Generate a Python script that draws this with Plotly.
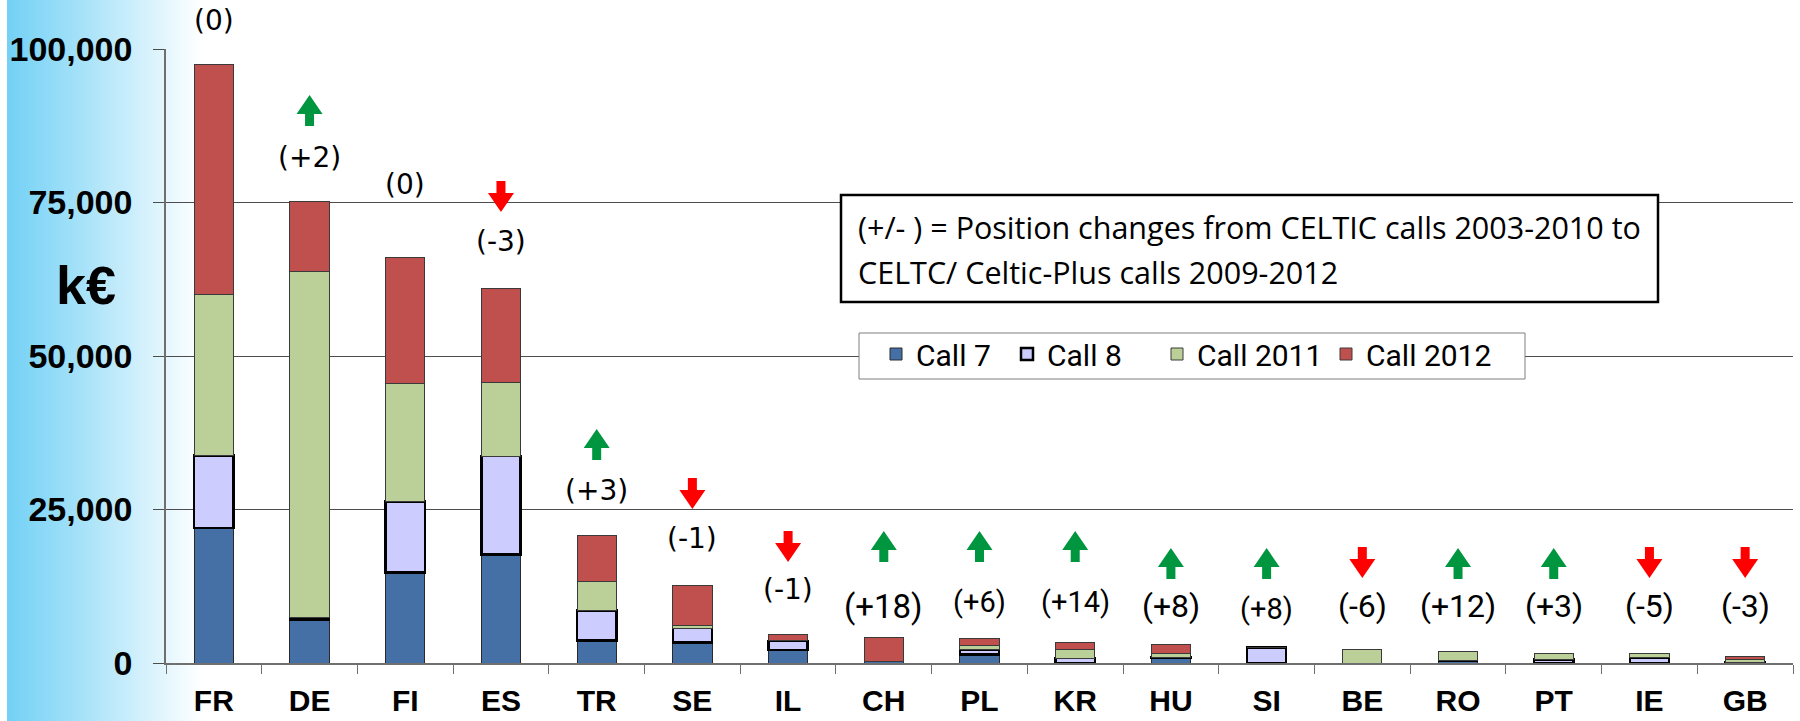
import plotly.graph_objects as go

# ---------------- data ----------------
countries = ["FR", "DE", "FI", "ES", "TR", "SE", "IL", "CH", "PL", "KR",
             "HU", "SI", "BE", "RO", "PT", "IE", "GB"]
call7 = [22000, 7000, 14700, 17700, 3650, 3300, 2100, 300, 1400, 0,
         800, 0, 0, 400, 0, 0, 0]
call8 = [11800, 400, 11600, 16000, 4900, 2400, 1500, 0, 800, 800,
         100, 2500, 0, 0, 600, 900, 100]
call2011 = [26200, 56400, 19200, 12000, 4650, 400, 100, 0, 600, 1400,
            600, 0, 2200, 1400, 1000, 600, 500]
call2012 = [37500, 11300, 20500, 15300, 7600, 6500, 900, 3800, 1200, 1200,
            1500, 0, 0, 0, 0, 0, 400]
position_change = [0, 2, 0, -3, 3, -1, -1, 18, 6, 14, 8, 8, -6, 12, 3, -5, -3]
y_ticks = [0, 25000, 50000, 75000, 100000]
note_lines = ["(+/- ) = Position changes from CELTIC calls 2003-2010 to",
              "CELTC/ Celtic-Plus calls 2009-2012"]

# ---------------- layout constants ----------------
W, H = 1800, 721
ML, MR, MT, MB = 166, 7, 49, 58
PW = W - ML - MR
PH = H - MT - MB
YMAX = 100000


def px_to_paper(px):
    return (px - ML) / PW


def py_to_paper(py):
    return (H - MB - py) / PH


# label centre rows and arrow base rows (annotation placement, pixels)
label_rows = [21, 157, 184, 241, 490, 538, 589, 606, 602, 602, 606, 609, 606, 606, 606, 606, 606]
label_sizes = [28, 28, 28, 28, 28, 28, 28, 33, 29, 29, 32, 29, 32, 32, 32, 32, 32]
arrow_rows = [None, 126, None, 212, 460, 509, 562, 562, 562, 562, 579, 579, 578, 579, 579, 578, 578]

series = [
    ("Call 7", call7, "#4470A6", "#2a2a2a", 1, 86),
    ("Call 8", call8, "#CCCCFF", "#000000", 2.5, 105),
    ("Call 2011", call2011, "#BBCF98", "#3a3a3a", 1, 124),
    ("Call 2012", call2012, "#C0504D", "#3a3a3a", 1, 130),
]

fig = go.Figure()
for name, vals, col, lcol, lw, lgw in series:
    fig.add_trace(go.Bar(
        x=countries, y=vals, name=name, legendwidth=lgw,
        marker=dict(color=col, line=dict(color=lcol, width=lw)),
    ))

shapes = []
# white strip on far left + blue gradient background
shapes.append(dict(type="rect", xref="paper", yref="paper",
                   x0=px_to_paper(0), x1=px_to_paper(7),
                   y0=py_to_paper(H), y1=py_to_paper(0),
                   fillcolor="white", line=dict(width=0), layer="below"))
c0 = (116, 209, 245)
c1 = (255, 255, 255)
step = 2
x = 7
gx_end = 200
while x < gx_end:
    t = (x - 7) / (gx_end - 7)
    t = t ** 1.05
    col = tuple(int(round(c0[i] + (c1[i] - c0[i]) * t)) for i in range(3))
    shapes.append(dict(type="rect", xref="paper", yref="paper",
                       x0=px_to_paper(x), x1=px_to_paper(x + step + 0.6),
                       y0=py_to_paper(H), y1=py_to_paper(0),
                       fillcolor="rgb(%d,%d,%d)" % col, line=dict(width=0),
                       layer="below"))
    x += step

UP = "M -4.5,0 L 4.5,0 L 4.5,12 L 13,12 L 0,31 L -13,12 L -4.5,12 Z"
DOWN = "M 0,0 L 13,19 L 4.5,19 L 4.5,31 L -4.5,31 L -4.5,19 L -13,19 Z"

annotations = []
for i, (c, chg) in enumerate(zip(countries, position_change)):
    txt = "(%+d)" % chg if chg != 0 else "(0)"
    if i < 7:
        fnt = dict(family="DejaVu Sans", size=label_sizes[i], color="black")
    else:
        fnt = dict(family="Roboto", size=label_sizes[i], color="black")
    annotations.append(dict(x=c, y=py_to_paper(label_rows[i]), xref="x", yref="paper",
                            text=txt, showarrow=False, font=fnt,
                            xanchor="center", yanchor="middle"))
    if chg != 0 and arrow_rows[i] is not None:
        shapes.append(dict(type="path", xref="x", yref="paper",
                           xsizemode="pixel", ysizemode="pixel",
                           xanchor=c, yanchor=py_to_paper(arrow_rows[i]),
                           path=UP if chg > 0 else DOWN,
                           fillcolor="#00963F" if chg > 0 else "#FF0000",
                           line=dict(width=0), layer="above"))

# y-axis unit
annotations.append(dict(x=px_to_paper(86), y=py_to_paper(285), xref="paper", yref="paper",
                        text="<b>k€</b>", showarrow=False,
                        font=dict(family="Liberation Sans", size=54, color="black"),
                        xanchor="center", yanchor="middle"))

# note box
shapes.append(dict(type="rect", xref="paper", yref="paper",
                   x0=px_to_paper(841), x1=px_to_paper(1658),
                   y0=py_to_paper(302), y1=py_to_paper(195),
                   fillcolor="white", line=dict(color="black", width=2.5),
                   layer="above"))
for row, line in zip([227, 272], note_lines):
    annotations.append(dict(
        x=px_to_paper(856), y=py_to_paper(row), xref="paper", yref="paper",
        xanchor="left", yanchor="middle", align="left", showarrow=False,
        text=line, font=dict(family="Open Sans", size=30.5, color="black"),
    ))

# legend frame
shapes.append(dict(type="rect", xref="paper", yref="paper",
                   x0=px_to_paper(859), x1=px_to_paper(1525),
                   y0=py_to_paper(379), y1=py_to_paper(333),
                   fillcolor="white", line=dict(color="#7f7f7f", width=1),
                   layer="above"))

fig.update_layout(
    width=W, height=H,
    margin=dict(l=ML, r=MR, t=MT, b=MB, autoexpand=False),
    barmode="stack", bargap=0.59,
    paper_bgcolor="white", plot_bgcolor="rgba(0,0,0,0)",
    shapes=shapes, annotations=annotations,
    legend=dict(orientation="h", x=px_to_paper(876), y=py_to_paper(328),
                xanchor="left", yanchor="top",
                font=dict(family="Roboto", size=30, color="black"),
                bgcolor="rgba(0,0,0,0)", borderwidth=0,
                traceorder="normal", itemwidth=30),
    xaxis=dict(
        automargin=False,
        showline=True, linecolor="#6f6f6f", linewidth=1.5,
        ticks="outside", tickson="boundaries", ticklen=9, tickcolor="#6f6f6f",
        tickfont=dict(family="Liberation Sans", size=30, color="black"),
        tickvals=countries, ticktext=["<b>%s</b>" % c for c in countries],
        ticklabelstandoff=10,
        showgrid=False, range=[-0.5, len(countries) - 0.5],
    ),
    yaxis=dict(
        automargin=False,
        range=[0, YMAX], tickvals=y_ticks,
        ticktext=["<b>{:,}</b>".format(v) for v in y_ticks],
        showgrid=True, gridcolor="#4d4d4d", gridwidth=1,
        showline=True, linecolor="#6f6f6f", linewidth=1.5,
        ticks="outside", ticklen=11, tickcolor="#4d4d4d",
        tickfont=dict(family="Liberation Sans", size=34, color="black"),
        ticklabelstandoff=14, zeroline=False,
    ),
)

fig.write_html(
    "out.html",
    config={"displayModeBar": False},
    post_script="document.body.style.margin='0px';document.body.style.overflow='hidden';",
)
